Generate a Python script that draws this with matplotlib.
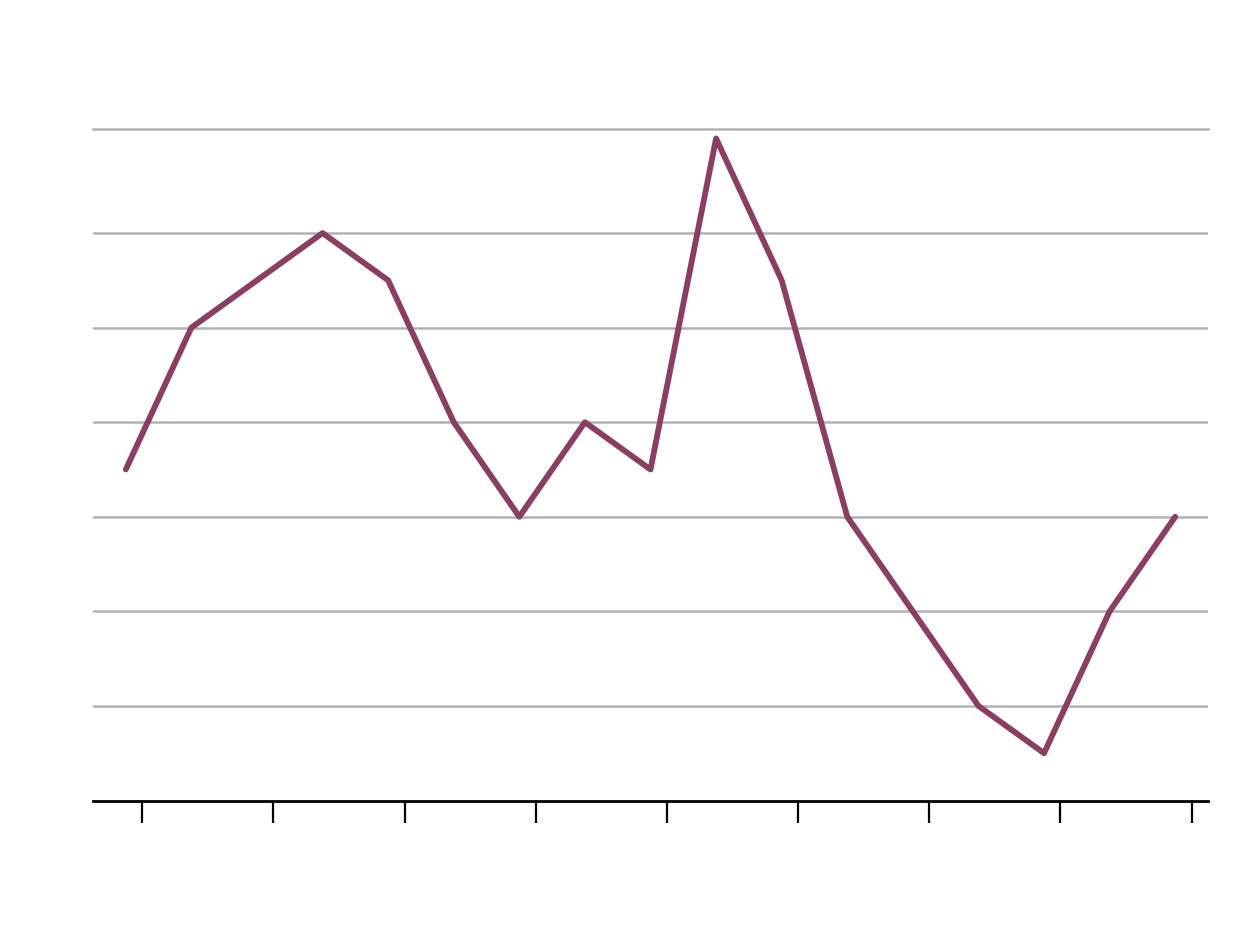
import numpy as np
import matplotlib
matplotlib.use("Agg")
import matplotlib.pyplot as plt

# values, one per step
x = np.arange(17)
y = [3.5, 5, 5.5, 6, 5.5, 4, 3, 4, 3.5, 7, 5.5, 3, 2, 1, 0.5, 2, 3]
grid_levels = [1, 2, 3, 4, 5, 6]
tick_pos = [0.25, 2.25, 4.25, 6.25, 8.25, 10.25, 12.25, 14.25, 16.25]

fig = plt.figure(figsize=(12.4, 9.28), dpi=100)
ax = fig.add_axes([93/1240, 1 - 801.5/928, (1208-93)/1240, (801.5-130)/928])

for g in grid_levels:
	ax.axhline(g, color="#b3b3b3", lw=1.8, zorder=1)

ax.plot(x, y, color="#8b3e63", lw=4.2, solid_joinstyle="round",
	solid_capstyle="round", zorder=3)

ax.set_xlim(-0.5, 16.5)
ax.set_ylim(0, 7.1)
ax.set_xticks(tick_pos)
ax.set_xticklabels([])
ax.set_yticks([])
ax.tick_params(axis="x", length=16, width=1.6, color="black", pad=0)

for s in ["left", "right"]:
	ax.spines[s].set_visible(False)
ax.spines["top"].set_color("#b3b3b3")
ax.spines["top"].set_linewidth(1.8)
ax.spines["bottom"].set_color("black")
ax.spines["bottom"].set_linewidth(2)

fig.savefig("out.png", dpi=100)
